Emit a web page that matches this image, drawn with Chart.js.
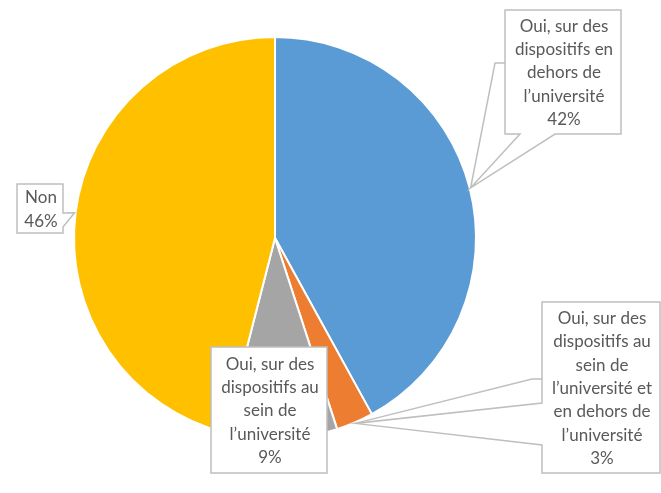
<!DOCTYPE html>
<html>
<head>
<meta charset="utf-8">
<script src="https://cdn.jsdelivr.net/npm/chart.js@4/dist/chart.umd.min.js"></script>
<style>
  body { margin: 0; background: #fff; }
  #chart { display: block; }
</style>
</head>
<body>
<canvas id="chart" width="661" height="493"></canvas>
<script>
const categories = [
  'Oui, sur des dispositifs en dehors de l’université',
  'Oui, sur des dispositifs au sein de l’université et en dehors de l’université',
  'Oui, sur des dispositifs au sein de l’université',
  'Non'
]
const values = [42, 3, 9, 46]
const colors = ['#5b9bd5', '#ed7d31', '#a5a5a5', '#ffc000']
const labelLines = [
  ['Oui, sur des', 'dispositifs en', 'dehors de', 'l’université'],
  ['Oui, sur des', 'dispositifs au', 'sein de', 'l’université et', 'en dehors de', 'l’université'],
  ['Oui, sur des', 'dispositifs au', 'sein de', 'l’université'],
  ['Non']
]

// where each callout box sits: [left, top, right, bottom]
const boxes = [
  [505, 10, 621, 134],
  [542, 302, 660, 473],
  [211, 347, 327, 473],
  [17, 184, 63, 233]
]

function tipOf(arc) {
  let p = arc.getProps(['x', 'y', 'startAngle', 'endAngle', 'outerRadius'], true)
  let a = (p.startAngle + p.endAngle) / 2
  let r = p.outerRadius + 1
  return [p.x + Math.cos(a) * r, p.y + Math.sin(a) * r]
}

const callouts = {
  id: 'callouts',
  afterDraw(chart) {
    let ctx = chart.ctx
    let arcs = chart.getDatasetMeta(0).data
    ctx.save()
    ctx.strokeStyle = '#bfbfbf'
    ctx.lineWidth = 1.5
    ctx.fillStyle = '#fff'

    arcs.forEach((arc, i) => {
      let [l, t, r, b] = boxes[i]
      let [tx, ty] = tipOf(arc)
      ctx.beginPath()
      if (i == 0) {
        // wedge comes out of the bottom edge, plus a leader from the left side
        ctx.moveTo(l, t); ctx.lineTo(r, t); ctx.lineTo(r, b)
        ctx.lineTo(555, b); ctx.lineTo(tx, ty); ctx.lineTo(520, b)
        ctx.lineTo(l, b); ctx.closePath()
        ctx.fill(); ctx.stroke()
        ctx.beginPath()
        ctx.moveTo(l, 63); ctx.lineTo(495, 63); ctx.lineTo(tx, ty)
        ctx.stroke()
      } else if (i == 1) {
        ctx.moveTo(l, t); ctx.lineTo(r, t); ctx.lineTo(r, b); ctx.lineTo(l, b)
        ctx.lineTo(l, 445); ctx.lineTo(tx, ty); ctx.lineTo(l, 403)
        ctx.closePath()
        ctx.fill(); ctx.stroke()
        ctx.beginPath()
        ctx.moveTo(l, 379); ctx.lineTo(532, 379); ctx.lineTo(tx, ty)
        ctx.stroke()
      } else if (i == 3) {
        ctx.moveTo(l, t); ctx.lineTo(r, t); ctx.lineTo(r, 213)
        ctx.lineTo(tx, ty); ctx.lineTo(r, 227); ctx.lineTo(r, b)
        ctx.lineTo(l, b); ctx.closePath()
        ctx.fill(); ctx.stroke()
      } else {
        ctx.rect(l, t, r - l, b - t)
        ctx.fill(); ctx.stroke()
      }

      // text
      let lines = labelLines[i].concat([values[i] + '%'])
      let lh = 23.3
      let cx = (l + r) / 2 + 1
      let cy = (t + b) / 2 + 1 - (lines.length - 1) * lh / 2
      ctx.fillStyle = '#595959'
      ctx.font = '17px Lato'
      ctx.textAlign = 'center'
      ctx.textBaseline = 'middle'
      lines.forEach((s, k) => ctx.fillText(s, cx, cy + k * lh))
      ctx.fillStyle = '#fff'
    })
    ctx.restore()
  }
}

document.addEventListener('DOMContentLoaded', () => {
  let ctx = document.getElementById('chart').getContext('2d')

  new Chart(ctx, {
    type: 'pie',
    data: {
      labels: categories,
      datasets: [{
        data: values,
        backgroundColor: colors,
        borderColor: '#fff',
        borderWidth: 2
      }]
    },
    options: {
      responsive: false,
      animation: false,
      layout: {
        padding: { left: 73, right: 184, top: 36, bottom: 53 }
      },
      plugins: {
        legend: { display: false },
        tooltip: { enabled: false }
      }
    },
    plugins: [callouts]
  })
})
</script>
</body>
</html>
